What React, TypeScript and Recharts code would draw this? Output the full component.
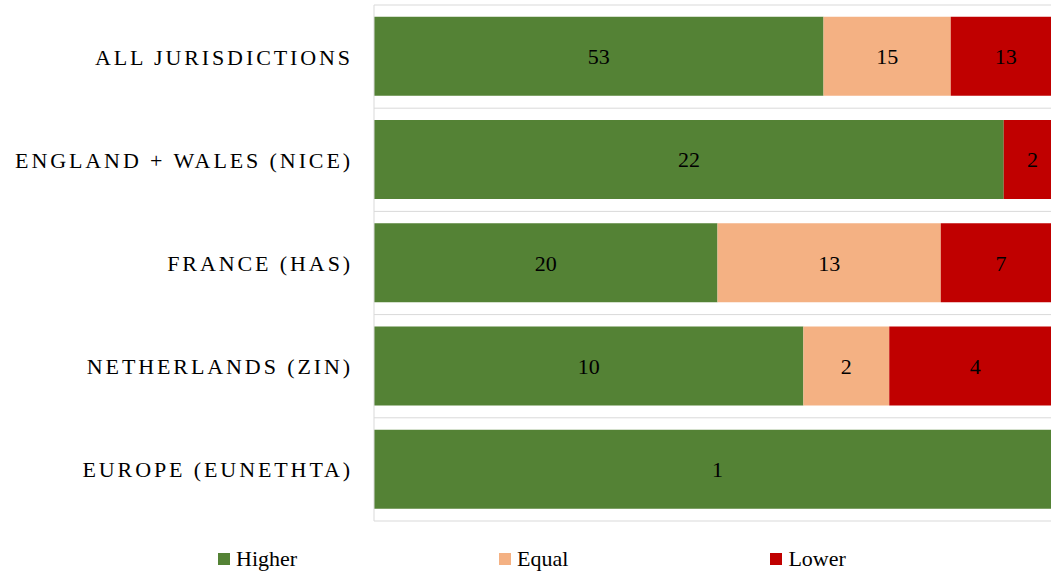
import { BarChart, Bar, XAxis, YAxis, CartesianGrid, Legend, LabelList } from 'recharts';

const jurisdictions = [
  'ALL JURISDICTIONS',
  'ENGLAND + WALES (NICE)',
  'FRANCE (HAS)',
  'NETHERLANDS (ZIN)',
  'EUROPE (EUNETHTA)'
];
const higher = [53, 22, 20, 10, 1];
const equal = [15, 0, 13, 2, 0];
const lower = [13, 2, 7, 4, 0];

const seriesInfo = [
  { key: 'higher', name: 'Higher', color: '#548235' },
  { key: 'equal', name: 'Equal', color: '#F4B183' },
  { key: 'lower', name: 'Lower', color: '#C00000' }
];

const data = jurisdictions.map((name, i) => ({
  name,
  higher: higher[i],
  equal: equal[i],
  lower: lower[i]
}));

const FONT = '"Liberation Serif", "Times New Roman", serif';

const hideZero = (v: any) => (v ? v : '');

const CategoryTick = (props: any) => {
  const { x, y, payload } = props;
  return (
    <text
      x={x - 13}
      y={y}
      dy={8}
      textAnchor="end"
      fill="#000"
      fontFamily={FONT}
      fontSize={22}
      letterSpacing={2.9}
    >
      {payload.value}
    </text>
  );
};

const LegendContent = () => (
  <div style={{ display: 'flex', gap: 202, paddingLeft: 218, fontFamily: FONT, fontSize: 22, color: '#000', lineHeight: '26px' }}>
    {seriesInfo.map((s) => (
      <div key={s.key} style={{ display: 'flex', alignItems: 'center' }}>
        <span style={{ width: 12, height: 12, background: s.color, marginRight: 6, display: 'inline-block' }} />
        <span>{s.name}</span>
      </div>
    ))}
  </div>
);

const App = () => {
  return (
    <div style={{ position: 'fixed', left: 0, top: 0, width: 1051, height: 575, overflow: 'hidden', background: '#fff' }}>
      <BarChart
        width={1062}
        height={575}
        data={data}
        layout="vertical"
        stackOffset="expand"
        barCategoryGap="11.5%"
        margin={{ top: 5, right: 1, left: 0, bottom: 28 }}
      >
        <CartesianGrid
          vertical={false}
          stroke="#d9d9d9"
          horizontalCoordinatesGenerator={({ offset }: any) =>
            jurisdictions.concat(['']).map((_, i) => offset.top + (i * offset.height) / jurisdictions.length)
          }
        />
        <XAxis type="number" domain={[0, 1]} hide />
        <YAxis
          type="category"
          dataKey="name"
          width={374}
          axisLine={{ stroke: '#d9d9d9' }}
          tickLine={false}
          tick={<CategoryTick />}
        />
        <Legend
          content={<LegendContent />}
          wrapperStyle={{ top: 546, left: 0, width: 1051 }}
        />
        {seriesInfo.map((s) => (
          <Bar key={s.key} dataKey={s.key} name={s.name} stackId="a" fill={s.color} isAnimationActive={false}>
            <LabelList
              dataKey={s.key}
              position="center"
              formatter={hideZero}
              fill="#000"
              fontFamily={FONT}
              fontSize={22}
            />
          </Bar>
        ))}
      </BarChart>
    </div>
  );
};

export default App;
